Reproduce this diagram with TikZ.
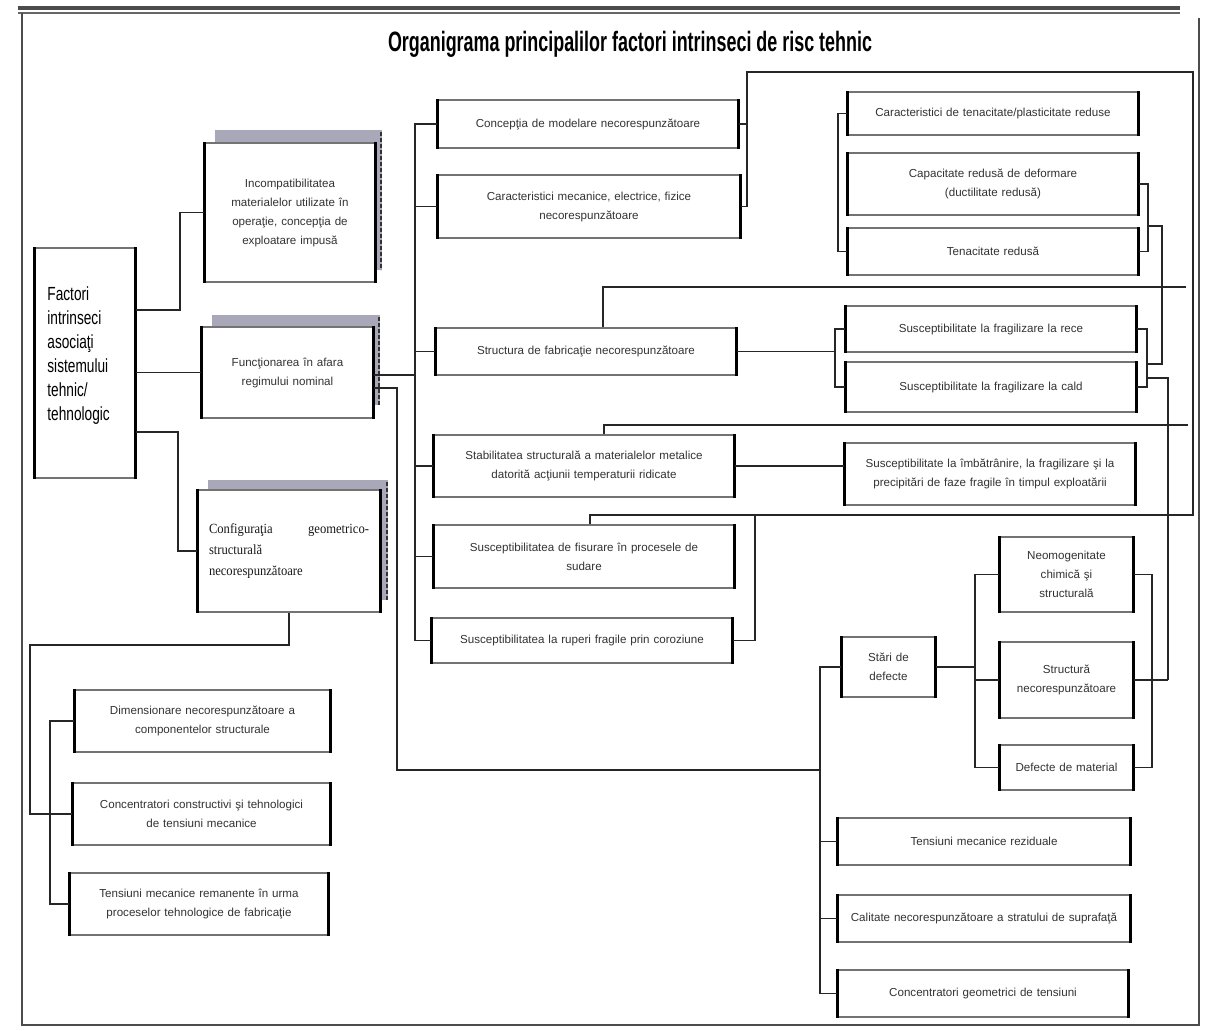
\documentclass[tikz,border=0pt]{standalone}
\usepackage{fontspec}
\setmainfont{Liberation Sans}
\newfontfamily\titlefont[FakeStretch=0.64]{Liberation Sans}
\newfontfamily\factfont[FakeStretch=0.72]{Liberation Sans}
\newfontfamily\serifbox[FakeStretch=0.9]{Liberation Serif}
\definecolor{shadowgray}{RGB}{168,168,184}
\newcommand\orgbox[6]{%
  \node[bx, minimum width={(#4-#2)*0.5pt}, minimum height={(#5-#3)*0.5pt},
        text width={(#4-#2)*0.5pt-8pt}] (#1) at ({(#2+#4)/2},{(#3+#5)/2}) {#6};}
\tikzset{
  bx/.style={draw=black!55, line width=0.7pt, fill=white, align=center, inner sep=2pt,
             font=\fontsize{5.8}{9.5}\selectfont, text=black!80},
  side/.style={line width=1.7pt, black},
  ln/.style={line width=0.8pt, black!85},
  shade/.style={fill=shadowgray, draw=none},
  shedge/.style={line width=1.4pt, black!80, dash pattern=on 2pt off 1pt},
  frame/.style={line width=0.8pt, black!70},
}
\begin{document}
\begin{tikzpicture}[x=0.5pt, y=-0.5pt]
\useasboundingbox (0,0) rectangle (1205,1030);
% frame
\draw[line width=1.6pt, black!70] (18,8) -- (1180,8);
\draw[line width=0.6pt, black!60] (18,13) -- (1180,13);
\draw[frame] (22,13) -- (22,1025) -- (1199,1025) -- (1199,18);
% title
\node[font=\titlefont\fontsize{14}{16}\selectfont\bfseries] (title) at (630,44)
  {Organigrama principalilor factori intrinseci de risc tehnic};
% shadows of the second level boxes
\fill[shade] (215,130) rectangle (382,270);
\draw[shedge] (381,132) -- (381,270);
\fill[shade] (212,315) rectangle (380,405);
\draw[shedge] (379,317) -- (379,405);
\fill[shade] (208,480) rectangle (388,600);
\draw[shedge] (387,482) -- (387,600);
% boxes
\orgbox{F}{35}{248}{135}{478}{}
\node[font=\factfont\fontsize{9.5}{12}\selectfont, align=left, anchor=north west, inner sep=0pt]
  (Ft) at (47,286) {Factori\\ intrinseci\\ asociaţi\\ sistemului\\ tehnic/\\ tehnologic};
\orgbox{B1}{205}{143}{375}{282}{Incompatibilitatea\\ materialelor utilizate în\\ operaţie, concepţia de\\ exploatare impusă}
\orgbox{B2}{202}{327}{373}{418}{Funcţionarea în afara\\ regimului nominal}
\node[bx, minimum width=91pt, minimum height=61pt, text width=80pt, align=left,
      font=\serifbox\fontsize{7}{10.5}\selectfont, text=black!90] (B3) at (289,551)
  {Configuraţia\hfill geometrico-\\ structurală\\ necorespunzătoare};
\orgbox{C1}{438}{100}{738}{148}{Concepţia de modelare necorespunzătoare}
\orgbox{C2}{438}{175}{740}{238}{Caracteristici mecanice, electrice, fizice\\ necorespunzătoare}
\orgbox{C3}{436}{328}{736}{375}{Structura de fabricaţie necorespunzătoare}
\orgbox{C4}{434}{435}{734}{497}{Stabilitatea structurală a materialelor metalice\\ datorită acţiunii temperaturii ridicate}
\orgbox{C5}{434}{525}{734}{588}{Susceptibilitatea de fisurare în procesele de\\ sudare}
\orgbox{C6}{432}{618}{732}{663}{Susceptibilitatea la ruperi fragile prin coroziune}
\orgbox{R1}{848}{92}{1138}{135}{Caracteristici de tenacitate/plasticitate reduse}
\orgbox{R2}{848}{153}{1138}{215}{Capacitate redusă de deformare\\ (ductilitate redusă)}
\orgbox{R3}{848}{228}{1138}{275}{Tenacitate redusă}
\orgbox{R4}{846}{306}{1136}{352}{Susceptibilitate la fragilizare la rece}
\orgbox{R5}{846}{362}{1136}{412}{Susceptibilitate la fragilizare la cald}
\orgbox{R6}{845}{443}{1135}{505}{Susceptibilitate la îmbătrânire, la fragilizare şi la\\ precipitări de faze fragile în timpul exploatării}
\orgbox{S}{842}{637}{935}{697}{Stări de\\ defecte}
\orgbox{N1}{1000}{537}{1133}{612}{Neomogenitate\\ chimică şi\\ structurală}
\orgbox{N2}{1000}{642}{1133}{718}{Structură\\ necorespunzătoare}
\orgbox{N3}{1000}{745}{1133}{790}{Defecte de material}
\orgbox{T1}{838}{818}{1130}{865}{Tensiuni mecanice reziduale}
\orgbox{T2}{838}{895}{1130}{942}{Calitate necorespunzătoare a stratului de suprafaţă}
\orgbox{T3}{838}{970}{1128}{1017}{Concentratori geometrici de tensiuni}
\orgbox{D1}{75}{690}{330}{752}{Dimensionare necorespunzătoare a\\ componentelor structurale}
\orgbox{D2}{73}{783}{330}{845}{Concentratori constructivi şi tehnologici\\ de tensiuni mecanice}
\orgbox{D3}{70}{873}{328}{935}{Tensiuni mecanice remanente în urma\\ proceselor tehnologice de fabricaţie}
% thick side edges
\foreach \n in {F,B1,B2,B3,C1,C2,C3,C4,C5,C6,R1,R2,R3,R4,R5,R6,S,N1,N2,N3,T1,T2,T3,D1,D2,D3}
  \draw[side] (\n.north west) -- (\n.south west) (\n.north east) -- (\n.south east);
% connectors: first level
\draw[ln] (F.east |- 0,310) -- (180,310) |- (B1.west);
\draw[ln] (F.east |- B2.west) -- (B2.west);
\draw[ln] (F.east |- 0,432) -- (178,432) |- (B3.west);
% B3 to bottom-left group
\draw[ln] (B3.south) |- (30,645) -- (30,814) -- (D2.west);
\draw[ln] (D1.west) -- (50,721) -- (50,904) -- (D3.west);
% B2 to second column
\draw[ln] (B2.east |- 0,375) -- (415,375);
\draw[ln] (C1.west) -- (415,124) -- (415,640.5) -- (C6.west);
\foreach \n in {C2,C3,C4,C5} \draw[ln] (\n.west -| 415,0) -- (\n.west);
% B2 to lower right group
\draw[ln] (B2.east |- 0,388) -- (397,388) -- (397,770) -- (820,770);
\draw[ln] (S.west) -- (820,667) -- (820,993.5) -- (T3.west);
\foreach \n in {T1,T2} \draw[ln] (\n.west -| 820,0) -- (\n.west);
% defects group
\draw[ln] (S.east) -- (975,667);
\draw[ln] (N1.west) -- (975,574.5) -- (975,767.5) -- (N3.west);
\draw[ln] (N2.west -| 975,0) -- (N2.west);
\draw[ln] (N1.east) -- (1152,574.5) -- (1152,767.5) -- (N3.east);
\draw[ln] (N2.east) -- (1168,680);
% second column to right column
\draw[ln] (C1.east) -- (747,124);
\draw[ln] (C2.east) -- (747,206.5) -- (747,72) -- (1193,72) -- (1193,515) -- (590,515) -- (C5.north -| 590,0);
\draw[ln] (C6.east) -- (755,640.5) -- (755,515);
\draw[ln] (C3.north -| 603,0) -- (603,287) -- (1186,287);
\draw[ln] (C4.north -| 604,0) -- (604,425) -- (1188,425);
\draw[ln] (C3.east) -- (835,351.5);
\draw[ln] (R4.west) -- (835,329) -- (835,387) -- (R5.west);
\draw[ln] (C4.east) -- (C4.east -| R6.west);
\draw[ln] (R1.west) -- (838,113.5) -- (838,251.5) -- (R3.west);
% right brackets
\draw[ln] (R2.east) -- (1148,184) -- (1148,251.5) -- (R3.east);
\draw[ln] (1148,226) -- (1162,226) -- (1162,364) -- (1147,364);
\draw[ln] (R4.east) -- (1147,329) -- (1147,387) -- (R5.east);
\draw[ln] (1147,378) -- (1168,378) -- (1168,680);
\end{tikzpicture}
\end{document}
